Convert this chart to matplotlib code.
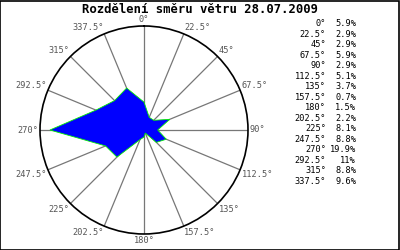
import numpy as np
import matplotlib
matplotlib.use("Agg")
import matplotlib.pyplot as plt
from matplotlib.patches import Rectangle

# wind direction (degrees) and share of measurements (%)
directions = [0, 22.5, 45, 67.5, 90, 112.5, 135, 157.5,
              180, 202.5, 225, 247.5, 270, 292.5, 315, 337.5]
shares = [5.9, 2.9, 2.9, 5.9, 2.9, 5.1, 3.7, 0.7,
          1.5, 2.2, 8.1, 8.8, 19.9, 11, 8.8, 9.6]
title = "Rozdělení směru větru 28.07.2009"

rmax = 22.0
mono = "DejaVu Sans Mono"

fig = plt.figure(figsize=(4, 2.5), dpi=100)
fig.patch.set_facecolor("white")

ax = fig.add_axes([0.1, 0.064, 0.52, 0.832], projection="polar")
ax.set_theta_zero_location("N")
ax.set_theta_direction(-1)
ax.set_ylim(0, rmax)
ax.grid(False)
ax.set_xticks([])
ax.set_yticks([])
ax.spines["polar"].set_color("black")
ax.spines["polar"].set_linewidth(1.2)

th = np.deg2rad(directions)

# spokes
for t in th:
    ax.plot([t, t], [0, rmax], color="#777777", lw=0.9, zorder=1)

# wind rose polygon
tc = np.append(th, th[0])
rc = np.append(shares, shares[0])
ax.fill(tc, rc, facecolor="#0000ff", edgecolor="#00ee00", lw=0.6, zorder=3)

# direction labels around the circle
for d, t in zip(directions, th):
    s, c = np.sin(t), np.cos(t)
    if abs(s) < 1e-6:
        ha = "center"
    elif s > 0:
        ha = "left"
    else:
        ha = "right"
    if abs(c) < 1e-6:
        va = "center"
    elif c > 0:
        va = "bottom"
    else:
        va = "top"
    ax.text(t, rmax * 1.015, f"{d:g}°", ha=ha, va=va, fontsize=6.2,
            family=mono, color="#555555", clip_on=False)

fig.text(0.5, 0.962, title, ha="center", va="center", fontsize=8.8,
         family=mono, fontweight="bold", color="black")

# legend table on the right
for i, (d, v) in enumerate(zip(directions, shares)):
    y = 1 - (24 + i * 10.47) / 250
    fig.text(326 / 400, y, f"{d:g}°", ha="right", va="center",
             fontsize=6.2, family=mono, color="black")
    fig.text(356 / 400, y, f"{v:g}%", ha="right", va="center",
             fontsize=6.2, family=mono, color="black")

fig.patches.append(Rectangle((0.001, 0.002), 0.997, 0.996, transform=fig.transFigure,
                             fill=False, edgecolor="black", lw=1.2))

fig.savefig("out.png", dpi=100, facecolor="white")
